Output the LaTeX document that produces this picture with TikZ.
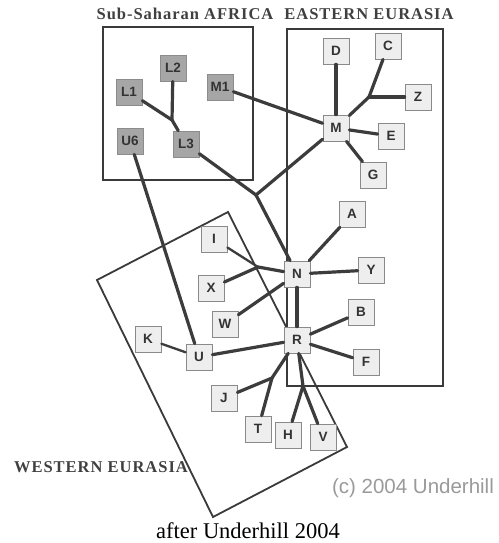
\documentclass[tikz,border=0pt]{standalone}
\usepackage{fontspec}
\setmainfont{Liberation Serif}
\newfontfamily\nodefont{Liberation Sans}
\newfontfamily\headfont[LetterSpace=6]{Liberation Serif}
\definecolor{lnc}{HTML}{3C3C3C}
\definecolor{frc}{HTML}{3A3A3A}
\definecolor{nfill}{HTML}{EEEEEE}
\definecolor{afill}{HTML}{A6A6A6}
\definecolor{nbord}{HTML}{8A8A8A}
\definecolor{copyc}{HTML}{9A9A9A}
\begin{document}
\begin{tikzpicture}[x=1pt,y=-1pt,
  nd/.style={draw=nbord, fill=nfill, line width=0.8pt, minimum size=26pt, inner sep=0pt,
    font=\nodefont\bfseries\fontsize{13.5}{13.5}\selectfont, text=black!80},
  af/.style={nd, fill=afill, draw=black!45},
  ln/.style={line width=3.2pt, draw=lnc, line cap=round, line join=round},
  lnt/.style={line width=2.3pt, draw=lnc, line cap=round, line join=round},
  frame/.style={line width=1.5pt, draw=frc},
  head/.style={font=\headfont\bfseries\fontsize{16.5}{16.5}\selectfont, text=black!75, inner sep=0pt}
]
\useasboundingbox[fill=white] (0,0) rectangle (498,543);

% region frames
\draw[frame] (103,27) rectangle (253,180);
\draw[frame, line width=1.2pt] (287,29) rectangle (443,386);
\draw[frame, line width=1.8pt] (228,212) -- (347,447) -- (213,517) -- (97,280) -- cycle;

% headings
\node[head] (hafr) at (185,14) {Sub-Saharan AFRICA};
\node[head] (heas) at (369,14) {EASTERN EURASIA};
\node[head] (hwes) at (101,467) {WESTERN EURASIA};
\node[inner sep=0pt, font=\nodefont\fontsize{20.5}{20.5}\selectfont, text=copyc] (copy) at (413,488)
  {(c) 2004 Underhill};
\node[inner sep=0pt, font=\fontsize{22.5}{22.5}\selectfont] (cap) at (248,531) {after Underhill 2004};

% African nodes
\node[af] (L2) at (173,68) {L2};
\node[af] (L1) at (129,92) {L1};
\node[af] (M1) at (220,87) {M1};
\node[af] (U6) at (130,141) {U6};
\node[af] (L3) at (186,144) {L3};

% other nodes
\node[nd] (D) at (336,51) {D};
\node[nd] (C) at (388,46) {C};
\node[nd] (Z) at (418,97) {Z};
\node[nd] (M) at (336,128) {M};
\node[nd] (E) at (391,136) {E};
\node[nd] (G) at (373,175) {G};
\node[nd] (A) at (352,214) {A};
\node[nd] (I) at (214,239) {I};
\node[nd] (N) at (297,274) {N};
\node[nd] (Y) at (371,270) {Y};
\node[nd] (X) at (211,288) {X};
\node[nd] (W) at (225,324) {W};
\node[nd] (B) at (361,312) {B};
\node[nd] (K) at (148,339) {K};
\node[nd] (R) at (297,340) {R};
\node[nd] (U) at (199,357) {U};
\node[nd] (F) at (366,362) {F};
\node[nd] (J) at (224,398) {J};
\node[nd] (T) at (258,429) {T};
\node[nd] (H) at (288,435) {H};
\node[nd] (V) at (323,437) {V};

% junctions
\coordinate (jL) at (172,120);
\coordinate (jM) at (369,97);
\coordinate (jA) at (256,195);
\coordinate (jI) at (258,267);
\coordinate (jJ) at (272,378);
\coordinate (jH) at (303,386);

% connectors
\draw[ln] (L1) -- (jL) -- (L3);
\draw[ln] (L2) -- (jL);
\draw[ln] (M1) -- (M);
\draw[ln] (U6) -- (U);
\draw[ln] (L3) -- (jA);
\draw[ln] (M) -- (jA);
\draw[ln] (jA) -- (N);
\draw[ln] (M) -- (jM);
\draw[ln] (jM) -- (C);
\draw[ln] (jM) -- (Z);
\draw[ln] (M) -- (D);
\draw[ln] (M) -- (E);
\draw[ln] (M) -- (G);
\draw[ln] (N) -- (A);
\draw[ln] (N) -- (Y);
\draw[lnt] (I) -- (jI);
\draw[ln] (X) -- (jI);
\draw[ln] (jI) -- (N);
\draw[ln] (W) -- (N);
\draw[ln] (N) -- (R);
\draw[ln] (R) -- (B);
\draw[ln] (R) -- (F);
\draw[ln] (U) -- (R);
\draw[lnt] (K) -- (U);
\draw[ln] (R) -- (jJ);
\draw[ln] (jJ) -- (J);
\draw[ln] (jJ) -- (T);
\draw[ln] (R) -- (jH);
\draw[ln] (jH) -- (H);
\draw[ln] (jH) -- (V);
\end{tikzpicture}
\end{document}
